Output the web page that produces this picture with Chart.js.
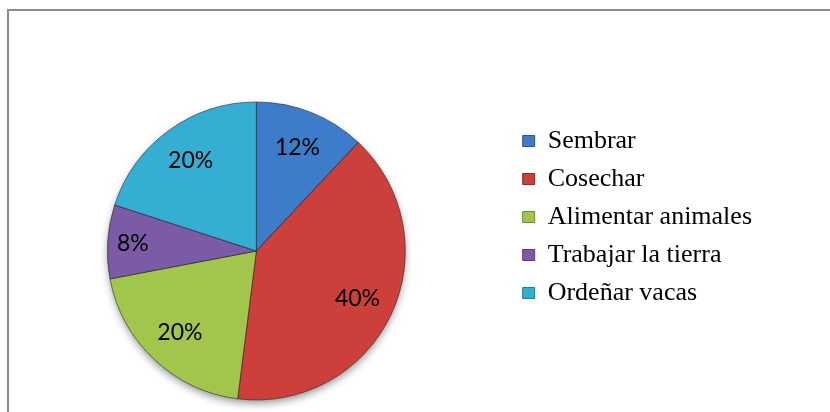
<!DOCTYPE html>
<html>
<head>
<meta charset="utf-8">
<script src="https://cdn.jsdelivr.net/npm/chart.js@4"></script>
<style>
  html, body { margin: 0; padding: 0; background: #fff; }
  #wrap { position: relative; width: 830px; height: 412px; overflow: hidden; }
  #frame { position: absolute; left: 7px; top: 9px; width: 840px; height: 420px; border: 2px solid #8c8c8c; box-sizing: border-box; }
  #c { position: absolute; left: 0; top: 0; }
</style>
</head>
<body>
<div id="wrap">
  <div id="frame"></div>
  <canvas id="c" width="830" height="412"></canvas>
</div>
<script>
const categories = ["Sembrar", "Cosechar", "Alimentar animales", "Trabajar la tierra", "Ordeñar vacas"];
const percentages = [12, 40, 20, 8, 20];
const sliceColors = ["#3d7cc8", "#cc3f3b", "#a2c54b", "#7b5aa6", "#34aed3"];

function shade(hex, f) {
  const n = parseInt(hex.slice(1), 16);
  let r = (n >> 16) & 255, g = (n >> 8) & 255, b = n & 255;
  const adj = v => Math.max(0, Math.min(255, Math.round(f > 0 ? v + (255 - v) * f : v * (1 + f))));
  return `rgb(${adj(r)},${adj(g)},${adj(b)})`;
}

const labelPlugin = {
  id: 'pctLabels',
  beforeDatasetsDraw(chart) {
    const meta = chart.getDatasetMeta(0);
    if (!meta.data.length) return;
    const a = meta.data[0];
    const ctx = chart.ctx;
    ctx.save();
    ctx.shadowColor = 'rgba(0,0,0,0.45)';
    ctx.shadowBlur = 8;
    ctx.shadowOffsetY = 4;
    ctx.fillStyle = '#888';
    ctx.beginPath();
    ctx.arc(a.x, a.y, a.outerRadius - 1, 0, Math.PI * 2);
    ctx.fill();
    ctx.restore();
  },
  afterDatasetsDraw(chart) {
    const meta = chart.getDatasetMeta(0);
    const ctx = chart.ctx;
    ctx.save();
    ctx.font = '23px Lato, "Open Sans", sans-serif';
    ctx.fillStyle = '#000';
    ctx.textAlign = 'center';
    ctx.textBaseline = 'middle';
    meta.data.forEach((arc, i) => {
      const p = arc.getProps(['x', 'y', 'startAngle', 'endAngle', 'outerRadius']);
      const mid = (p.startAngle + p.endAngle) / 2;
      const r = p.outerRadius * (p.endAngle - p.startAngle < 0.6 ? 0.83 : 0.75);
      ctx.fillText(chart.data.datasets[0].data[i] + '%', p.x + Math.cos(mid) * r, p.y + Math.sin(mid) * r);
    });
    ctx.restore();
  }
};

new Chart(document.getElementById('c'), {
  type: 'pie',
  data: {
    labels: categories,
    datasets: [{
      data: percentages,
      radius: 149,
      clip: false,
      backgroundColor: (ctx) => {
        const base = sliceColors[ctx.dataIndex];
        const ch = ctx.chart;
        const meta = ch.getDatasetMeta(0);
        const el = meta.data[ctx.dataIndex];
        if (!el || !el.x) return base;
        const g = ch.ctx.createLinearGradient(0, el.y - 149, 0, el.y + 149);
        g.addColorStop(0, shade(base, 0.12));
        g.addColorStop(0.5, base);
        g.addColorStop(1, shade(base, -0.15));
        return g;
      },
      borderColor: 'rgba(30,30,30,0.55)',
      borderWidth: 1
    }]
  },
  options: {
    responsive: false,
    animation: false,
    layout: { padding: { top: 116, bottom: 26, left: 2, right: 68 } },
    plugins: {
      tooltip: { enabled: false },
      legend: {
        position: 'right',
        align: 'start',
        labels: {
          boxWidth: 12,
          boxHeight: 11,
          padding: 12,
          color: '#000',
          font: { family: '"Liberation Serif", "Times New Roman", serif', size: 26 },
          generateLabels(chart) {
            return chart.data.labels.map((l, i) => ({
              text: l,
              fillStyle: sliceColors[i],
              strokeStyle: shade(sliceColors[i], -0.3),
              lineWidth: 1,
              hidden: false,
              index: i
            }));
          }
        }
      }
    }
  },
  plugins: [labelPlugin]
});
</script>
</body>
</html>
